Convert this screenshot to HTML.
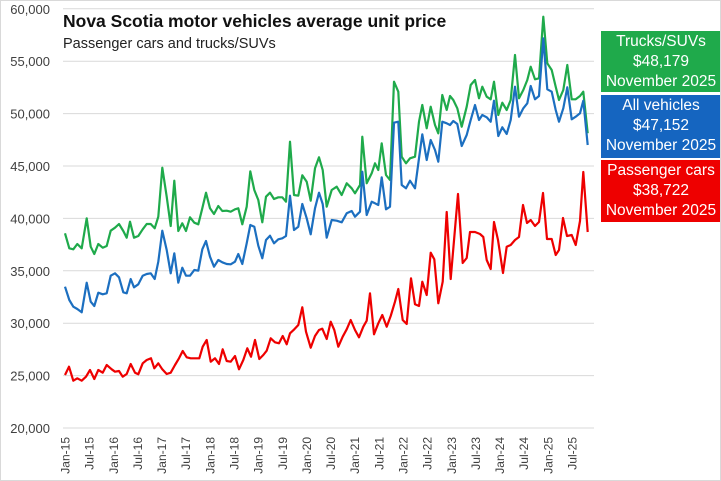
<!DOCTYPE html>
<html><head><meta charset="utf-8"><style>
body{margin:0;background:#fff}
#c{position:relative;width:719px;height:479px;border:1px solid #d9d9d9;overflow:hidden;font-family:"Liberation Sans",sans-serif}
.box{position:absolute;left:600px;width:120px;color:#fff;text-align:center;font-size:15.5px;line-height:20px;padding-top:1px;box-sizing:border-box}
</style></head><body>
<div id="c">
<svg id="s" width="721" height="481" style="position:absolute;left:-1px;top:-1px">
<g id="grid" stroke="#d9d9d9" stroke-width="1"></g>
<g id="yl" font-size="13" fill="#404040" text-anchor="end" font-family="Liberation Sans"></g>
<g id="xl" font-size="12" fill="#404040" font-family="Liberation Sans"></g>
<text x="63" y="27" font-size="17.5" font-weight="bold" fill="#111" font-family="Liberation Sans">Nova Scotia motor vehicles average unit price</text>
<text x="63" y="48" font-size="14.5" fill="#222" font-family="Liberation Sans">Passenger cars and trucks/SUVs</text>
<g id="lines" fill="none" stroke-width="2.2" stroke-linejoin="round"></g>
</svg>
<div class="box" style="top:30px;height:61px;background:#1faa4b">Trucks/SUVs<br>$48,179<br>November 2025</div>
<div class="box" style="top:94px;height:63px;background:#1565c0">All vehicles<br>$47,152<br>November 2025</div>
<div class="box" style="top:159px;height:62px;background:#ee0000">Passenger cars<br>$38,722<br>November 2025</div>
</div>
<script>
var NS="http://www.w3.org/2000/svg";
function el(p,t,a,txt){var e=document.createElementNS(NS,t);for(var k in a)e.setAttribute(k,a[k]);if(txt)e.textContent=txt;p.appendChild(e);return e;}
var g=document.getElementById('grid'),yl=document.getElementById('yl'),xl=document.getElementById('xl');
for(var i=0;i<=8;i++){var v=20000+i*5000,y=428-i*52.4;
 el(g,'line',{x1:63,x2:594,y1:y,y2:y});
 el(yl,'text',{x:50,y:y+5},(v/1000)+",000");}
var yrs=['15','16','17','18','19','20','21','22','23','24','25'];
for(var k=0;k<22;k++){var x=65+6*k*4.024;var lab=(k%2?'Jul-':'Jan-')+yrs[Math.floor(k/2)];
 el(xl,'text',{transform:'translate('+(x+4.5)+',437) rotate(-90)','text-anchor':'end'},lab);}
function tr(arr,ox,oy){var o=[];for(var i=0;i<arr.length;i+=2)o.push((ox+arr[i]/3).toFixed(1)+','+(oy+arr[i+1]/3).toFixed(1));return o;}
var gL=[15,400,28,445,40,448,52,432,65,445,80,355,92,440,103,462,115,432,128,443,140,438,152,392,165,383,177,372,190,393,200,413,210,365,222,413,235,408,248,388,260,372,272,372,284,385,295,350,307,203,320,290,332,378,343,242,355,393,367,370,378,393,390,352,403,368,415,373,427,325,438,278,450,325,462,342,475,318,487,333,500,332,512,335,525,328,535,325,547,373,560,320,571,214,583,270,595,300,607,367,618,290,630,278,642,297,655,292,667,292,678,305,690,125,702,285,715,287,727,226,740,245,752,302,765,205,777,172,788,210,800,320];
var gR=[35,540,50,530,65,555,80,520,95,535,105,550,120,525,127,380,140,520,155,490,165,460,175,480,185,400,198,495,210,510,222,215,235,245,245,440,258,460,270,445,285,440,297,335,307,285,320,355,332,290,345,345,355,370,367,255,380,300,390,258,400,270,412,295,425,350,440,290,452,225,465,210,477,265,487,230,500,260,512,268,522,215,535,315,547,278,560,300,572,270,585,135,597,265,610,240,622,210,632,170,645,208,657,205,670,20,682,160,695,180,707,230,717,270,730,240,742,165,755,268,767,268,780,258,790,245,803,370];
var bL=[15,560,28,600,40,620,52,627,65,637,80,548,92,605,103,618,115,578,128,583,140,580,152,527,165,520,177,532,190,577,200,580,212,537,222,562,235,553,248,527,260,522,272,520,284,537,295,485,307,392,320,450,332,520,343,460,355,548,367,503,378,527,390,527,403,510,415,512,427,448,438,423,450,470,462,500,475,480,487,487,500,492,512,493,525,485,535,462,547,492,560,430,571,375,583,380,595,437,607,475,618,420,630,407,642,430,655,418,667,415,678,408,690,287,702,390,715,380,727,312,740,355,752,403,765,325,777,278,788,312,800,413];
var bR=[35,630,50,632,65,637,80,610,95,603,105,620,120,605,127,485,140,615,155,575,165,580,175,585,185,502,198,598,210,590,222,338,235,335,245,525,258,535,270,512,285,535,297,445,307,373,320,450,332,390,345,420,355,455,367,335,380,340,390,345,400,333,412,342,425,408,440,375,452,330,465,285,477,330,487,315,500,322,512,335,522,272,535,378,547,352,560,372,572,330,585,230,597,320,610,295,622,280,632,228,645,268,657,258,670,85,682,238,695,245,707,300,717,335,730,295,742,232,755,328,767,320,780,310,790,272,803,405];
var rA=[195,435,207,410,220,452,232,445,245,452,258,440,270,420,283,447,295,420,308,428,320,405,335,418,345,425,357,423,368,440,380,432,392,402,405,428,415,433,428,400,440,390,453,385,463,415,475,400,487,418,500,432,512,428,525,405,537,385,548,363,560,382,572,385,585,385,598,385,608,350,620,330,632,395,645,385,657,402,668,358,680,393,692,395,705,378,717,418,730,390,742,355,753,380,765,330,778,387,790,375,800,362,812,325,825,337,837,340,848,318,860,343,870,310,883,298,895,285,907,232];
var rB=[18,305,32,353,45,318,57,300,67,296,80,327,92,275,103,300,115,350,128,320,140,298,152,270,165,300,177,322,190,290,200,272,210,190,222,313,235,280,247,255,260,290,272,258,285,215,295,177,308,270,320,282,333,145,345,223,357,228,367,155,380,195,392,68,403,88,415,220,428,155];
var rC=["446.7,212","450.7,279","458,194","462.7,263","466.7,258","470,232","475,232","480,234","483.3,237","486.7,260","490.7,269","494,222","498,240","503,273","506.7,246.7","510.7,245","515,240","519,237","523,205","527,223","530.7,220","535,226","539,222","543,193","547,239","551.7,239","555.7,255","559,250","563,218","567,236","571.7,235","575.7,245","580,221","583.3,172","587.7,232"];
var L=document.getElementById('lines');
el(L,'polyline',{stroke:'#ee0000',points:tr(rA,0,230).concat(tr(rB,300,230)).concat(rC).join(' ')});
el(L,'polyline',{stroke:'#1faa4b',points:tr(gL,60,100).concat(tr(gR,320,10)).join(' ')});
el(L,'polyline',{stroke:'#1c6fc0',points:tr(bL,60,100).concat(tr(bR,320,10)).join(' ')});
</script>
</body></html>
